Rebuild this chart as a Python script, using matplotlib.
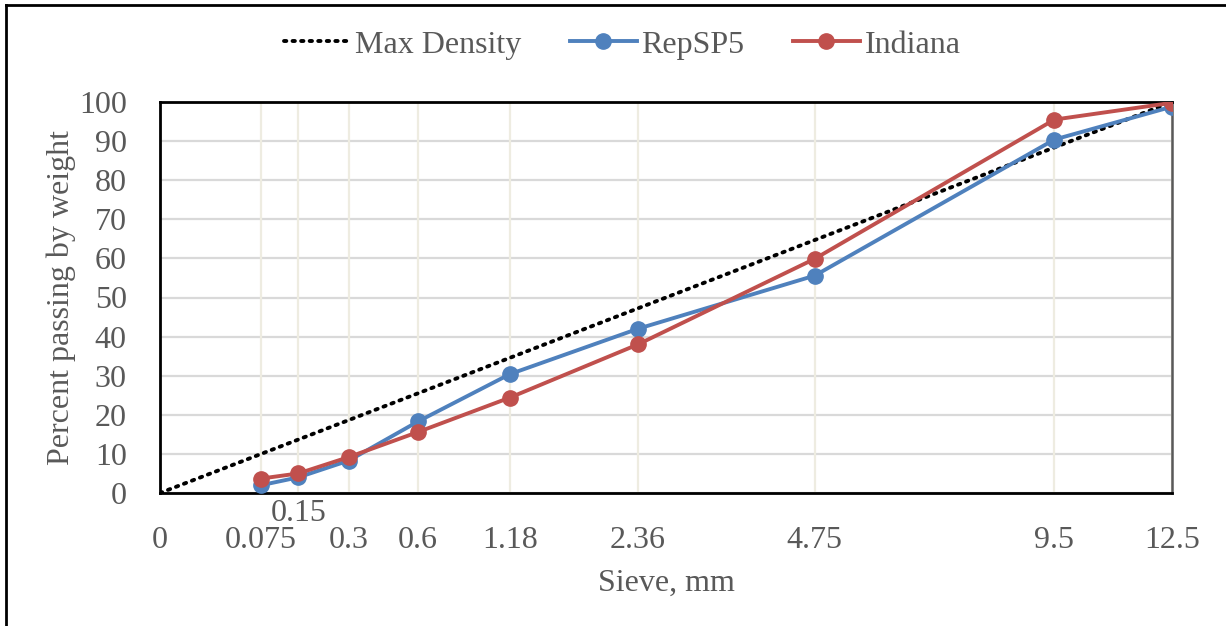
import numpy as np
import matplotlib
matplotlib.use("Agg")
import matplotlib.pyplot as plt
from matplotlib.lines import Line2D

# sieve sizes (mm) and percent passing
sieves = [0.075, 0.15, 0.3, 0.6, 1.18, 2.36, 4.75, 9.5, 12.5]
tick_labels = ["0", "0.075", "0.15", "0.3", "0.6", "1.18", "2.36", "4.75", "9.5", "12.5"]
rep_sp5 = [2.0, 4.0, 8.3, 18.3, 30.4, 42.0, 55.6, 90.4, 98.8]
indiana = [3.7, 5.0, 9.2, 15.6, 24.4, 38.0, 59.9, 95.5, 99.8]
max_density_x = [0, 12.5]
max_density_y = [0, 100]

POWER = 0.45

def tx(v):
    return np.power(np.asarray(v, dtype=float), POWER)

plt.rcParams['font.family'] = ['Liberation Serif', 'DejaVu Serif']
TEXT_COLOR = '#595959'
FS = 23

fig = plt.figure(figsize=(12.26, 6.26), dpi=100)
ax = fig.add_axes([160 / 1226, 1 - 493 / 626, (1172 - 160) / 1226, (493 - 102) / 626])

ax.plot(tx(max_density_x), max_density_y, color='black', linestyle=(0, (0.6, 1.6)),
        linewidth=2.8, dash_capstyle='round', label='Max Density', zorder=3)
ax.plot(tx(sieves), rep_sp5, color='#4f81bd', linewidth=2.8, marker='o', markersize=11,
        label='RepSP5', zorder=4)
ax.plot(tx(sieves), indiana, color='#c0504d', linewidth=2.8, marker='o', markersize=11,
        label='Indiana', zorder=5)

ax.set_xlim(0, tx(12.5))
ax.set_ylim(0, 100)

# vertical grid at each sieve, horizontal every 10
for s in sieves:
    ax.axvline(tx(s), color='#eeece1', linewidth=1.6, zorder=1)
ax.set_yticks(range(0, 101, 10))
ax.yaxis.grid(True, color='#d9d9d9', linewidth=1.6, zorder=1)
ax.set_axisbelow(True)

ax.set_xticks(tx([0] + sieves))
labels = list(tick_labels)
labels[2] = ""  # 0.15 is drawn staggered, higher up
ax.set_xticklabels(labels)
ax.text(tx(0.15), -0.015, "0.15", transform=ax.get_xaxis_transform(), ha='center', va='top',
        fontsize=FS, color=TEXT_COLOR, zorder=2)

ax.tick_params(axis='both', length=0, labelsize=FS, labelcolor=TEXT_COLOR)
ax.tick_params(axis='x', pad=24)
ax.tick_params(axis='y', pad=24)

for side in ['left', 'bottom', 'top']:
    ax.spines[side].set_color('black')
    ax.spines[side].set_linewidth(2)
ax.spines['right'].set_color('#595959')
ax.spines['right'].set_linewidth(1.8)

ax.set_xlabel("Sieve, mm", fontsize=FS, color=TEXT_COLOR, labelpad=10)
ax.set_ylabel("Percent passing by weight", fontsize=FS, color=TEXT_COLOR, labelpad=2)

ax.legend(loc='center', bbox_to_anchor=(622 / 1226, 1 - 45 / 626), bbox_transform=fig.transFigure,
          ncol=3, frameon=False, fontsize=FS, labelcolor=TEXT_COLOR, handlelength=2.1,
          handletextpad=0.15, columnspacing=1.5)

# outer chart border (top and left visible)
fig.add_artist(Line2D([6 / 1226, 1], [1 - 5 / 626, 1 - 5 / 626], color='black', linewidth=2,
                      transform=fig.transFigure))
fig.add_artist(Line2D([6 / 1226, 6 / 1226], [0, 1 - 5 / 626], color='black', linewidth=2,
                      transform=fig.transFigure))

fig.savefig("out.png", dpi=100)
